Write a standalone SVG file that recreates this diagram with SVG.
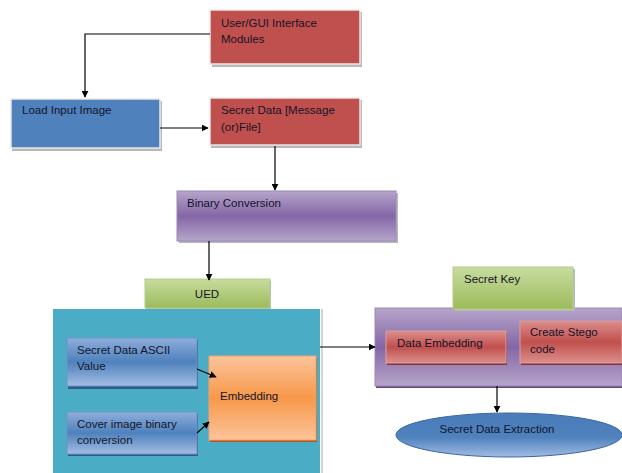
<svg xmlns="http://www.w3.org/2000/svg" width="622" height="473" viewBox="0 0 622 473">
  <defs>
    <linearGradient id="gPurple" x1="0" y1="0" x2="0" y2="1">
      <stop offset="0" stop-color="#b6a5ca"/>
      <stop offset="0.5" stop-color="#8466a6"/>
      <stop offset="1" stop-color="#b6a5ca"/>
    </linearGradient>
    <linearGradient id="gGreen" x1="0" y1="0" x2="0" y2="1">
      <stop offset="0" stop-color="#c8dca0"/>
      <stop offset="1" stop-color="#9bbb59"/>
    </linearGradient>
    <linearGradient id="gBlue" x1="0" y1="0" x2="0" y2="1">
      <stop offset="0" stop-color="#8eaedb"/>
      <stop offset="0.5" stop-color="#4f81bd"/>
      <stop offset="1" stop-color="#a3bde3"/>
    </linearGradient>
    <linearGradient id="gOrange" x1="0" y1="0" x2="0" y2="1">
      <stop offset="0" stop-color="#fbc49b"/>
      <stop offset="0.5" stop-color="#f7984a"/>
      <stop offset="1" stop-color="#fbc49b"/>
    </linearGradient>
    <linearGradient id="gRed" x1="0" y1="0" x2="0" y2="1">
      <stop offset="0" stop-color="#dc8e8c"/>
      <stop offset="0.5" stop-color="#c0504d"/>
      <stop offset="1" stop-color="#dc8e8c"/>
    </linearGradient>
    <linearGradient id="gEllipse" x1="0" y1="0" x2="0" y2="1">
      <stop offset="0" stop-color="#4a7cba"/>
      <stop offset="0.55" stop-color="#4f81bd"/>
      <stop offset="1" stop-color="#a0bce3"/>
    </linearGradient>
    <marker id="arrow" viewBox="0 0 10 10" refX="9" refY="5" markerWidth="7" markerHeight="7" markerUnits="userSpaceOnUse" orient="auto">
      <path d="M0,0 L10,5 L0,10 z" fill="#000"/>
    </marker>
  </defs>
  <style>
    text { font-family: "Liberation Sans", Arial, sans-serif; font-size: 11.5px; fill: #14142a; }
    .shadow { fill: #b8b8b8; }
    .edge { stroke: #e8e8e8; stroke-width: 1.5; }
    .conn { fill: none; stroke: #000; stroke-width: 1.2; marker-end: url(#arrow); }
  </style>

  <rect width="622" height="473" fill="#ffffff"/>

  <g id="user-gui">
    <rect class="shadow" x="212" y="12" width="150" height="55"/>
    <rect class="edge" x="210" y="10" width="150" height="54" fill="#c0504d"/>
    <text x="221" y="27">User/GUI Interface</text>
    <text x="221" y="43">Modules</text>
  </g>

  <g id="load-input">
    <rect class="shadow" x="12" y="101" width="150" height="50"/>
    <rect class="edge" x="11" y="99" width="149" height="49" fill="#4f81bd"/>
    <text x="22" y="114">Load Input Image</text>
  </g>

  <g id="secret-data">
    <rect class="shadow" x="211" y="100" width="151" height="48"/>
    <rect class="edge" x="210" y="98" width="150" height="47" fill="#c0504d"/>
    <text x="221" y="114">Secret Data [Message</text>
    <text x="221" y="131">(or)File]</text>
  </g>

  <g id="binary-conversion">
    <rect class="shadow" x="179" y="193" width="219" height="50"/>
    <rect x="177" y="191" width="219" height="50" fill="url(#gPurple)" stroke="#9b87b8" stroke-width="1"/>
    <text x="187" y="207">Binary Conversion</text>
  </g>

  <g id="ued">
    <rect class="shadow" x="146" y="281" width="125" height="29"/>
    <rect x="145" y="279" width="125" height="29" fill="url(#gGreen)" stroke="#b5cc86" stroke-width="1"/>
    <text x="207" y="298" text-anchor="middle">UED</text>
  </g>

  <g id="ued-panel">
    <rect x="321" y="309" width="2" height="164" fill="#d0d6d8"/>
    <rect x="53" y="309" width="267" height="164" fill="#4bacc6"/>
  </g>

  <g id="ascii-value">
    <rect x="68" y="340" width="130" height="49" fill="#2f5a8c"/>
    <rect x="67" y="338" width="130" height="48" fill="url(#gBlue)" stroke="#6e94c8" stroke-width="1"/>
    <text x="77" y="354">Secret Data ASCII</text>
    <text x="77" y="370">Value</text>
  </g>

  <g id="cover-binary">
    <rect x="68" y="414" width="130" height="42" fill="#2f5a8c"/>
    <rect x="67" y="412" width="130" height="42" fill="url(#gBlue)" stroke="#6e94c8" stroke-width="1"/>
    <text x="77" y="428">Cover image binary</text>
    <text x="77" y="444">conversion</text>
  </g>

  <g id="embedding">
    <rect x="210" y="358" width="107" height="84" fill="#b3561a"/>
    <rect x="209" y="356" width="107" height="84" fill="url(#gOrange)" stroke="#f3a36a" stroke-width="1"/>
    <text x="220" y="400">Embedding</text>
  </g>

  <g id="stego-panel">
    <rect x="376" y="310" width="246" height="78" fill="#5e4a7a"/>
    <rect x="375" y="308" width="247" height="78" fill="url(#gPurple)" stroke="#9b87b8" stroke-width="1"/>
  </g>

  <g id="secret-key">
    <rect class="shadow" x="455" y="269" width="120" height="42"/>
    <rect x="453" y="267" width="120" height="42" fill="url(#gGreen)" stroke="#b5cc86" stroke-width="1"/>
    <text x="464" y="283">Secret Key</text>
  </g>

  <g id="data-embedding">
    <rect x="387" y="333" width="120" height="32" fill="#8a3230"/>
    <rect x="386" y="331" width="120" height="32" fill="url(#gRed)" stroke="#d9a09e" stroke-width="1"/>
    <text x="397" y="347">Data Embedding</text>
  </g>

  <g id="create-stego">
    <rect x="521" y="323" width="101" height="42" fill="#8a3230"/>
    <rect x="520" y="321" width="102" height="42" fill="url(#gRed)" stroke="#d9a09e" stroke-width="1"/>
    <text x="530" y="336">Create Stego</text>
    <text x="530" y="353">code</text>
  </g>

  <g id="extraction">
    <ellipse cx="509" cy="435" rx="113" ry="22" fill="url(#gEllipse)" stroke="#3a66a0" stroke-width="1"/>
    <text x="497" y="433" text-anchor="middle">Secret Data Extraction</text>
  </g>

  <g id="connectors">
    <path class="conn" d="M210,34 H85 V97"/>
    <path class="conn" d="M160,128 H208"/>
    <path class="conn" d="M275,146 V190"/>
    <path class="conn" d="M209,241 V280"/>
    <path class="conn" d="M320,347 H375"/>
    <path class="conn" d="M497,386 V412"/>
    <path class="conn" d="M197,369 L216,377"/>
    <path class="conn" d="M197,433 L209,422"/>
  </g>
</svg>
